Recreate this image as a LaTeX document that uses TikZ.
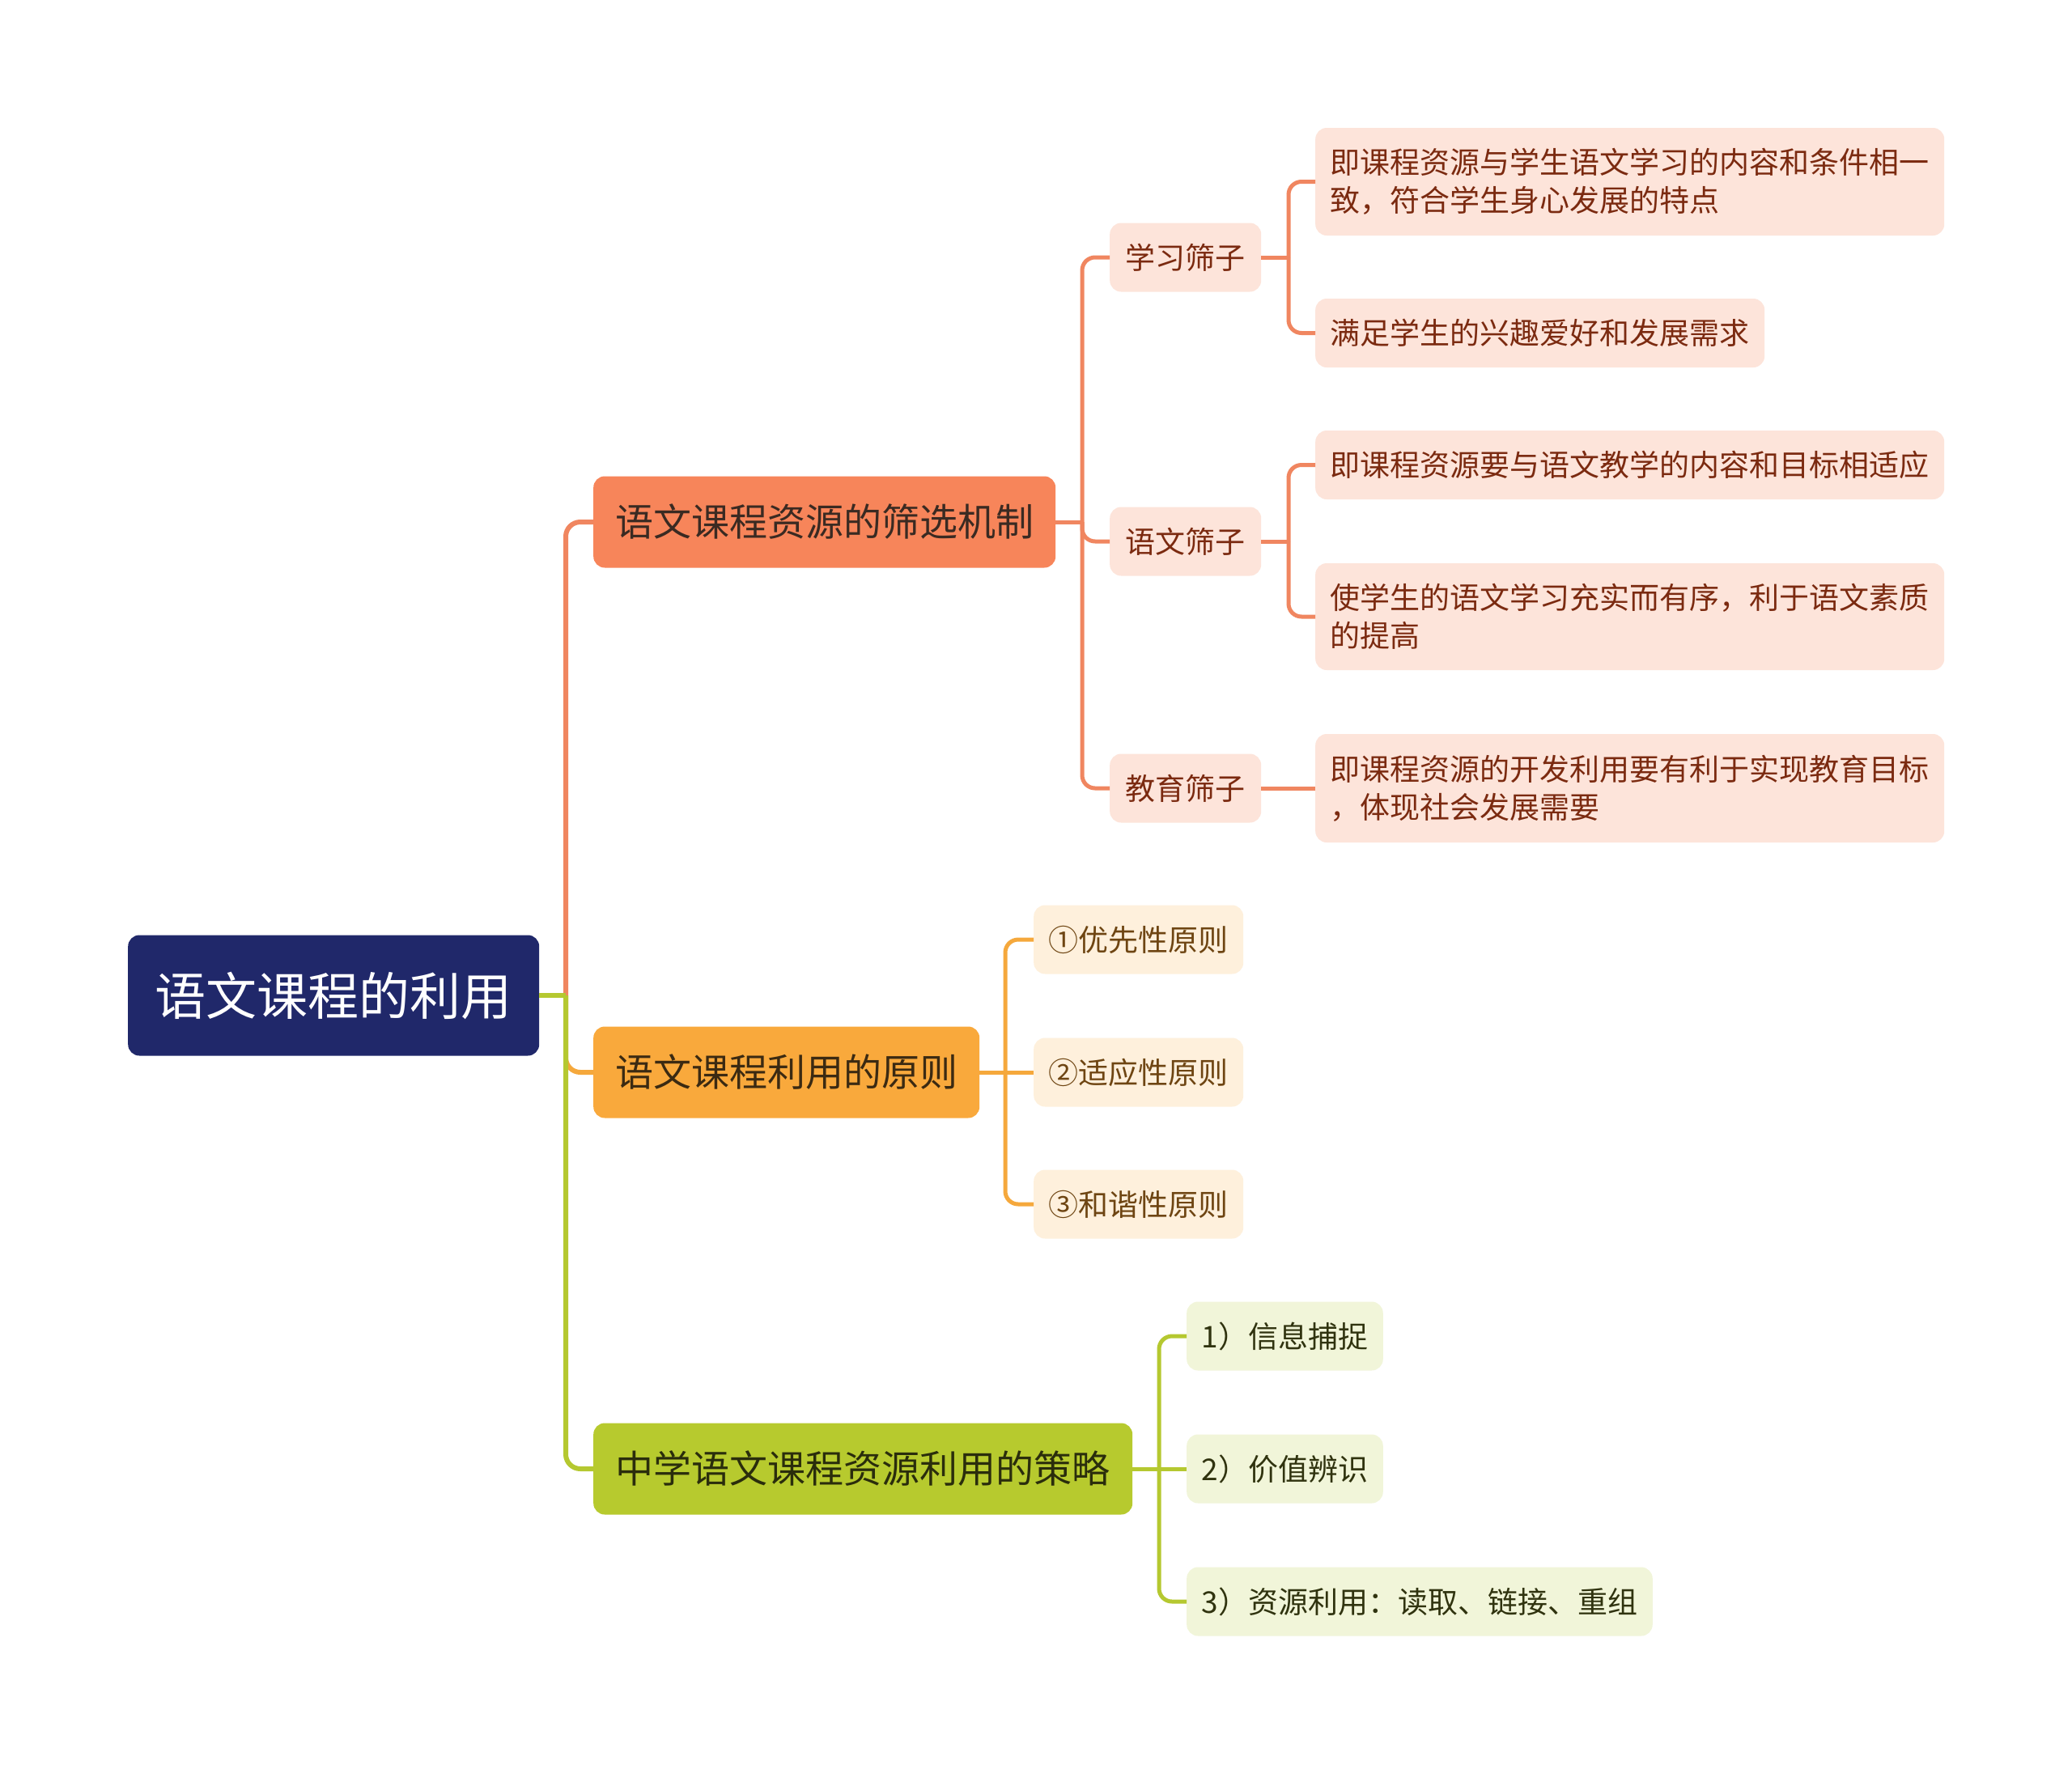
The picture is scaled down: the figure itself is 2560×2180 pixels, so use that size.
\documentclass[tikz,border=0pt]{standalone}
\usepackage{fontspec}
\setmainfont{Noto Sans CJK SC}
\definecolor{rootc}{HTML}{20286A}
\definecolor{fA}{HTML}{F7855A}
\definecolor{tA}{HTML}{3A2A22}
\definecolor{fB}{HTML}{F9A93C}
\definecolor{tB}{HTML}{3B2A12}
\definecolor{fC}{HTML}{B7CA2E}
\definecolor{tC}{HTML}{2A2D0C}
\definecolor{lA}{HTML}{FDE4DA}
\definecolor{ltA}{HTML}{7B2A10}
\definecolor{lB}{HTML}{FEF0DC}
\definecolor{ltB}{HTML}{6E4512}
\definecolor{lC}{HTML}{F1F5D9}
\definecolor{ltC}{HTML}{30330F}
\definecolor{cA}{HTML}{F08660}
\definecolor{cB}{HTML}{F5A83C}
\definecolor{cC}{HTML}{B5C830}
\begin{document}
\begin{tikzpicture}[x=1pt,y=-1pt,
  basebox/.style={rounded corners=14pt, inner sep=0pt, anchor=west},
  rootbox/.style={basebox, fill=rootc, text=white, font=\fontsize{63}{75}\selectfont, minimum width=508pt, minimum height=149pt},
  lonebox/.style={basebox, font=\fontsize{47}{56}\selectfont, minimum height=113pt},
  subbox/.style={basebox, inner xsep=18.5pt, minimum height=85pt, align=left, font=\fontsize{37}{47}\selectfont},
  subA/.style={subbox, fill=lA, text=ltA},
  subB/.style={subbox, fill=lB, text=ltB},
  subC/.style={subbox, fill=lC, text=ltC},
  connA/.style={line width=6pt, rounded corners=18pt, draw=cA},
  connB/.style={line width=6pt, rounded corners=18pt, draw=cB},
  connC/.style={line width=6pt, rounded corners=18pt, draw=cC},
  thinA/.style={line width=5pt, rounded corners=16pt, draw=cA},
  thinB/.style={line width=5pt, rounded corners=16pt, draw=cB},
  thinC/.style={line width=5pt, rounded corners=16pt, draw=cC}
]
\useasboundingbox[fill=white] (0,0) rectangle (2560,2180);

% root and main branches
\node[rootbox] (root) at (158,1230) {语文课程的利用};
\node[lonebox, fill=fA, text=tA, minimum width=571pt] (a) at (733,645) {语文课程资源的筛选机制};
\node[lonebox, fill=fB, text=tB, minimum width=477pt] (b) at (733,1325) {语文课程利用的原则};
\node[lonebox, fill=fC, text=tC, minimum width=666pt] (c) at (733,1815) {中学语文课程资源利用的策略};

% branch A
\node[subA, minimum width=187pt] (a1) at (1371,318) {学习筛子};
\node[subA, minimum width=187pt] (a2) at (1371,669) {语文筛子};
\node[subA, minimum width=187pt] (a3) at (1371,974) {教育筛子};
\node[subA, text width=740pt, minimum height=133pt] (a11) at (1625,224.5) {即课程资源与学生语文学习的内容和条件相一\\致，符合学生身心发展的特点};
\node[subA] (a12) at (1625,411.5) {满足学生的兴趣爱好和发展需求};
\node[subA] (a21) at (1625,574.5) {即课程资源要与语文教学的内容和目标相适应};
\node[subA, text width=740pt, minimum height=132pt] (a22) at (1625,762) {使学生的语文学习充实而有序，利于语文素质\\的提高};
\node[subA, text width=740pt, minimum height=134pt] (a31) at (1625,974) {即课程资源的开发利用要有利于实现教育目标\\，体现社会发展需要};

% branch B
\node[subB, minimum width=259pt] (b1) at (1277,1161) {①优先性原则};
\node[subB, minimum width=259pt] (b2) at (1277,1325) {②适应性原则};
\node[subB, minimum width=259pt] (b3) at (1277,1488) {③和谐性原则};

% branch C
\node[subC] (c1) at (1466,1651) {1）信息捕捉};
\node[subC] (c2) at (1466,1815) {2）价值辨识};
\node[subC] (c3) at (1466,1979) {3）资源利用：读取、链接、重组};

% connectors: root level
\coordinate (jr) at (699,1230);
\draw[connA] (jr) |- (a.west);
\draw[connB] (jr) |- (b.west);
\draw[connC] (jr) |- (c.west);
\draw[connC] (root.east) -- (jr);

% connectors: branch A
\coordinate (ja) at (1337,645);
\draw[thinA] (a.east) -- (ja);
\draw[thinA] (ja) |- (a1.west);
\draw[thinA] (ja) |- (a2.west);
\draw[thinA] (ja) |- (a3.west);
\coordinate (ja1) at (1592,318);
\draw[thinA] (a1.east) -- (ja1);
\draw[thinA] (ja1) |- (a11.west);
\draw[thinA] (ja1) |- (a12.west);
\coordinate (ja2) at (1592,669);
\draw[thinA] (a2.east) -- (ja2);
\draw[thinA] (ja2) |- (a21.west);
\draw[thinA] (ja2) |- (a22.west);
\draw[thinA] (a3.east) -- (a31.west);

% connectors: branch B
\coordinate (jb) at (1242,1325);
\draw[thinB] (b.east) -- (jb);
\draw[thinB] (jb) |- (b1.west);
\draw[thinB] (jb) -- (b2.west);
\draw[thinB] (jb) |- (b3.west);

% connectors: branch C
\coordinate (jc) at (1432,1815);
\draw[thinC] (c.east) -- (jc);
\draw[thinC] (jc) |- (c1.west);
\draw[thinC] (jc) -- (c2.west);
\draw[thinC] (jc) |- (c3.west);
\end{tikzpicture}
\end{document}
